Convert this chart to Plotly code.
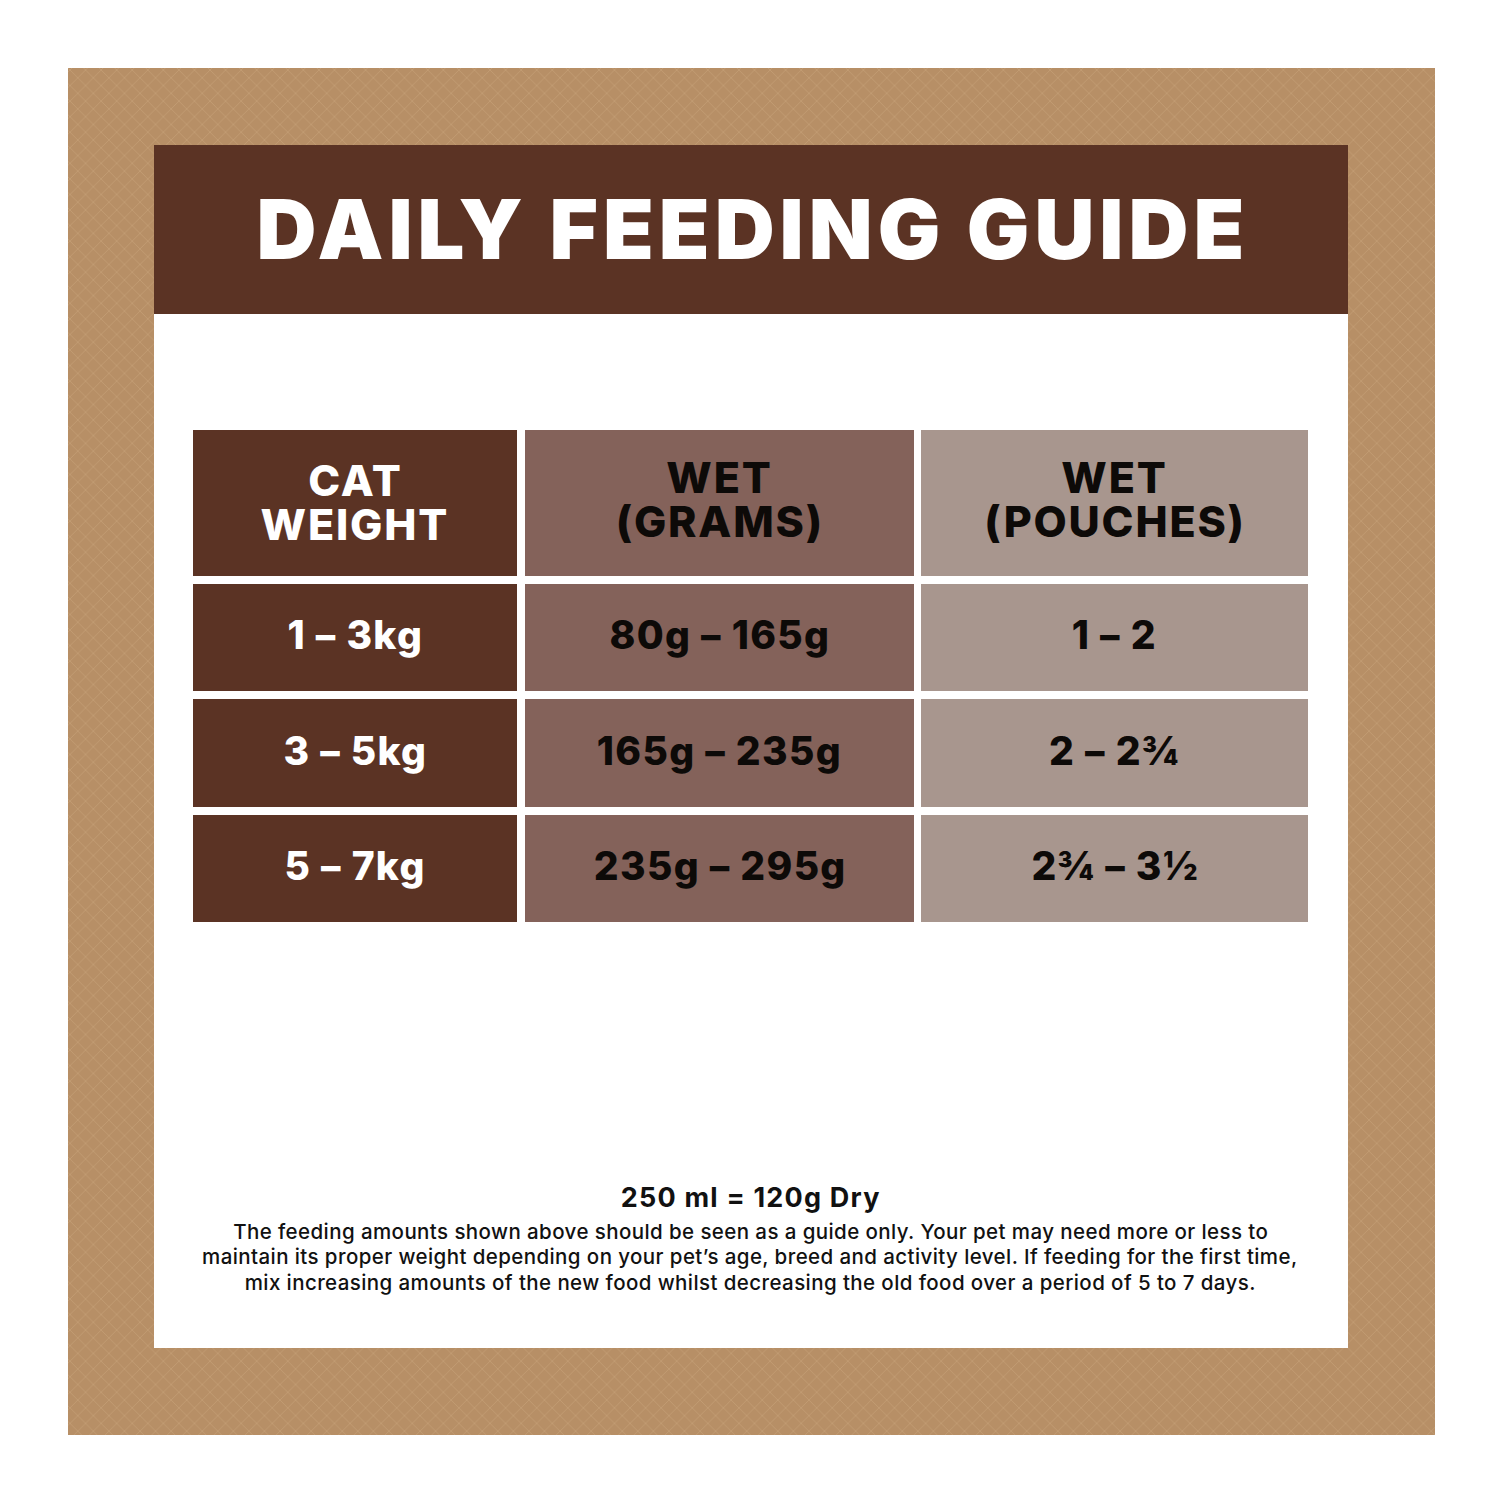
import plotly.graph_objects as go

TITLE = "DAILY FEEDING GUIDE"
HEADERS = [["CAT", "WEIGHT"], ["WET", "(GRAMS)"], ["WET", "(POUCHES)"]]
WEIGHTS = ["1 – 3kg", "3 – 5kg", "5 – 7kg"]
GRAMS = ["80g – 165g", "165g – 235g", "235g – 295g"]
POUCHES = ["1 – 2", "2 – 2¾", "2¾ – 3½"]
FOOT_HEAD = "250 ml = 120g Dry"
FOOT_LINES = [
    "The feeding amounts shown above should be seen as a guide only. Your pet may need more or less to",
    "maintain its proper weight depending on your pet’s age, breed and activity level. If feeding for the first time,",
    "mix increasing amounts of the new food whilst decreasing the old food over a period of 5 to 7 days.",
]
COL_EDGES = [(193, 517), (525, 914), (921, 1308)]
ROW_EDGES = [(430, 576), (584, 691), (699, 807), (815, 922)]
COL_FILL = ["#5b3324", "#84625a", "#a8968e"]
TXT_COL = ["#ffffff", "#0d0a08", "#0d0a08"]
FONT = "Inter, 'Open Sans', sans-serif"

fig = go.Figure()
# textured kraft frame
fig.add_trace(go.Bar(
    x=[751.5], y=[1367], base=[68], width=[1367], orientation="v",
    marker=dict(color="#b78f66", line_width=0,
                pattern=dict(shape="x", size=11, solidity=0.09,
                             fgcolor="#caa67e", bgcolor="#b78f66", fillmode="replace")),
    hoverinfo="skip", showlegend=False))

def rect(x0, y0, x1, y1, c):
    fig.add_shape(type="rect", x0=x0, x1=x1, y0=y0, y1=y1, fillcolor=c,
                  line_width=0, layer="above")

def text(x, y, s, size, color, weight=700):
    fig.add_annotation(x=x, y=y, text=s, showarrow=False, xanchor="center", yanchor="middle",
                       font=dict(family=FONT, size=size, color=color, weight=weight))

rect(154, 145, 1348, 1348, "#ffffff")
rect(154, 145, 1348, 314, "#5b3324")
text(752.5, 229, TITLE, 83, "#ffffff", 900)

columns = [WEIGHTS, GRAMS, POUCHES]
for c, (x0, x1) in enumerate(COL_EDGES):
    cx = (x0 + x1) / 2
    for (y0, y1) in ROW_EDGES:
        rect(x0, y0, x1, y1, COL_FILL[c])
    dy = 3 if c == 0 else 0
    text(cx, 477 + dy, HEADERS[c][0], 43, TXT_COL[c], 800)
    text(cx, 521 + dy, HEADERS[c][1], 43, TXT_COL[c], 800)
    for r, v in enumerate(columns[c]):
        y0, y1 = ROW_EDGES[r + 1]
        text(cx, (y0 + y1) / 2 - 3, v, 39, TXT_COL[c], 800)

text(750, 1197.5, FOOT_HEAD, 27, "#111111", 700)
for s, y in zip(FOOT_LINES, [1231, 1256, 1282]):
    text(750, y, s, 20.5, "#111111", 500)

fig.update_layout(
    width=1500, height=1500, margin=dict(l=0, r=0, t=0, b=0),
    paper_bgcolor="#ffffff", plot_bgcolor="#ffffff", showlegend=False,
    xaxis=dict(range=[0, 1500], visible=False, fixedrange=True),
    yaxis=dict(range=[1500, 0], visible=False, fixedrange=True),
)
SPACING_JS = """
document.body.style.margin='0';
var sp={83:5.0,43:1.8,39:1.3,27:1.2,20.5:0.41};
document.querySelectorAll('.annotation-text').forEach(function(t){
  var fs=parseFloat(t.style.fontSize);
  if(sp[fs]!==undefined){t.style.letterSpacing=sp[fs]+'px';}
});
"""
fig.write_html("out.html", post_script=SPACING_JS, config={"displayModeBar": False})
